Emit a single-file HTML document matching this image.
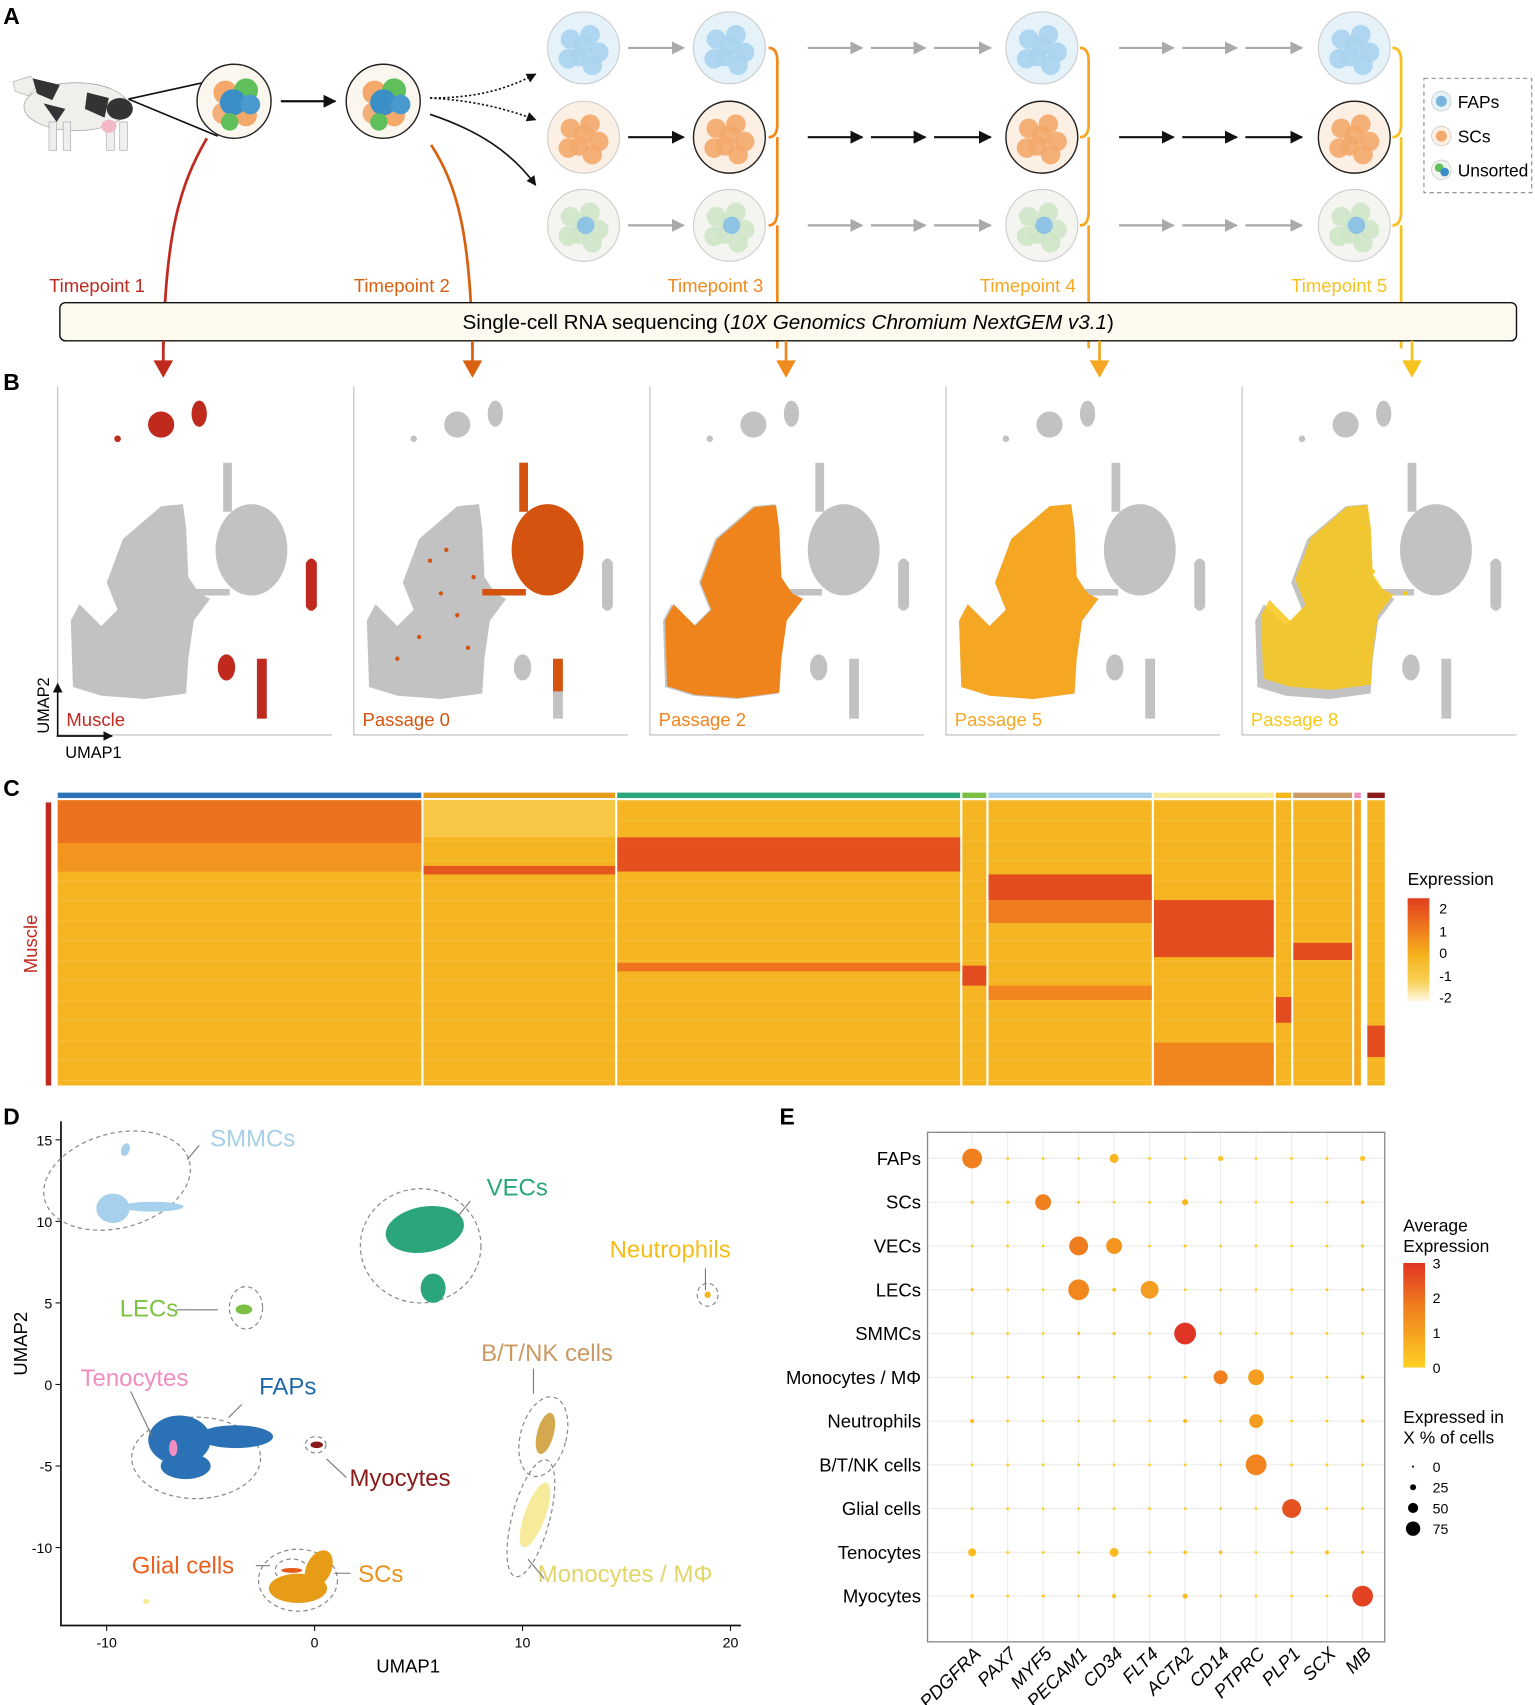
<!DOCTYPE html>
<html><head><meta charset="utf-8"><style>
html,body{margin:0;padding:0;background:#fff;}
svg{display:block;font-family:"Liberation Sans",sans-serif;}
</style></head><body>
<svg id="fig" width="1535" height="1705" viewBox="0 0 1410 1566" preserveAspectRatio="none" xmlns="http://www.w3.org/2000/svg">
<defs>
<marker id="ah" viewBox="0 0 10 10" refX="9" refY="5" markerWidth="6" markerHeight="6" orient="auto"><path d="M0,0L10,5L0,10z" fill="#111"/></marker>
<marker id="ahg" viewBox="0 0 10 10" refX="9" refY="5" markerWidth="6" markerHeight="6" orient="auto"><path d="M0,0L10,5L0,10z" fill="#aaa"/></marker>
<linearGradient id="expg" x1="0" y1="0" x2="0" y2="1"><stop offset="0" stop-color="#e0401e"/><stop offset="0.3" stop-color="#f07a1e"/><stop offset="0.55" stop-color="#f5b21d"/><stop offset="0.8" stop-color="#f8cf55"/><stop offset="1" stop-color="#fffbe8"/></linearGradient>
<linearGradient id="avg" x1="0" y1="0" x2="0" y2="1"><stop offset="0" stop-color="#e03524"/><stop offset="0.4" stop-color="#ef7c1e"/><stop offset="0.7" stop-color="#f7a520"/><stop offset="1" stop-color="#fdd022"/></linearGradient>
</defs>

<!-- PANEL A -->
<g>
<text x="3" y="22" font-size="21" font-weight="bold">A</text>
<g>
<ellipse cx="70" cy="98" rx="48" ry="22" fill="#f1efeb" stroke="#999" stroke-width="0.6"/>
<path d="M12,75 L28,70 L35,78 L26,88 L14,84z" fill="#f1efeb" stroke="#999" stroke-width="0.5"/>
<path d="M30,72 L55,78 L48,92 L34,86z" fill="#333"/>
<path d="M80,85 L100,90 L96,108 L78,100z" fill="#333"/>
<path d="M40,95 L60,100 L52,112z" fill="#333"/>
<ellipse cx="110" cy="100" rx="12" ry="10" fill="#333"/>
<rect x="45" y="112" width="7" height="26" fill="#eee" stroke="#999" stroke-width="0.5"/>
<rect x="58" y="112" width="7" height="26" fill="#eee" stroke="#999" stroke-width="0.5"/>
<rect x="98" y="112" width="7" height="26" fill="#eee" stroke="#999" stroke-width="0.5"/>
<rect x="110" y="112" width="7" height="26" fill="#eee" stroke="#999" stroke-width="0.5"/>
<ellipse cx="100" cy="116" rx="7" ry="6" fill="#f2b8c6"/>
</g>
<line x1="118" y1="91" x2="200" y2="73" stroke="#111" stroke-width="1.5"/>
<line x1="118" y1="91" x2="200" y2="125" stroke="#111" stroke-width="1.5"/>
<g>
<circle cx="215" cy="93" r="34" fill="#fbf7ef" stroke="#222" stroke-width="1.3"/>
<circle cx="207" cy="85" r="11" fill="#f4a86a"/><circle cx="226" cy="83" r="11" fill="#5fbf5a"/><circle cx="205" cy="104" r="10" fill="#f4b07a"/><circle cx="226" cy="106" r="10" fill="#f4a86a"/><circle cx="214" cy="94" r="12" fill="#3b8fc6"/><circle cx="230" cy="96" r="9" fill="#4a9ad0"/><circle cx="211" cy="112" r="8" fill="#5fbf5a"/>
</g>
<line x1="258" y1="93" x2="308" y2="93" stroke="#111" stroke-width="2" marker-end="url(#ah)"/>
<g>
<circle cx="352" cy="93" r="34" fill="#fbf7ef" stroke="#222" stroke-width="1.3"/>
<circle cx="344" cy="85" r="11" fill="#f4a86a"/><circle cx="362" cy="83" r="11" fill="#5fbf5a"/><circle cx="343" cy="104" r="10" fill="#f4b07a"/><circle cx="362" cy="106" r="10" fill="#f4a86a"/><circle cx="352" cy="94" r="12" fill="#3b8fc6"/><circle cx="368" cy="96" r="9" fill="#4a9ad0"/><circle cx="348" cy="112" r="8" fill="#5fbf5a"/>
</g>
<path d="M395,90 C430,90 460,85 492,68" stroke="#111" stroke-width="1.5" stroke-dasharray="2,2" fill="none" marker-end="url(#ah)"/>
<path d="M395,90 C430,92 460,98 492,110" stroke="#111" stroke-width="1.5" stroke-dasharray="2,2" fill="none" marker-end="url(#ah)"/>
<path d="M395,105 C440,120 470,140 492,170" stroke="#111" stroke-width="1.5" fill="none" marker-end="url(#ah)"/>
<g id="circles"></g>
<g>
<rect x="1308" y="72" width="99" height="105" fill="none" stroke="#888" stroke-dasharray="4,3"/>
<circle cx="1324" cy="93" r="9" fill="#e6f2fa" stroke="#bbb" stroke-width="0.5"/><circle cx="1324" cy="93" r="5" fill="#7ab6db"/>
<text x="1339" y="99" font-size="16">FAPs</text>
<circle cx="1324" cy="125" r="9" fill="#fcefe3" stroke="#bbb" stroke-width="0.5"/><circle cx="1324" cy="125" r="5" fill="#f4a86a"/>
<text x="1339" y="131" font-size="16">SCs</text>
<circle cx="1324" cy="156" r="9" fill="#f2f5ee" stroke="#bbb" stroke-width="0.5"/><circle cx="1322" cy="154" r="4" fill="#5fbf5a"/><circle cx="1327" cy="158" r="4" fill="#3b8fc6"/>
<text x="1339" y="162" font-size="16">Unsorted</text>
</g>
<path d="M190,127 C165,170 152,215 150,320" stroke="#c0291e" stroke-width="2.5" fill="none"/>
<path d="M396,133 C420,170 432,215 434,320" stroke="#d9600f" stroke-width="2.5" fill="none"/>
<g font-size="17">
<text x="45" y="268" fill="#c0291e">Timepoint 1</text>
<text x="325" y="268" fill="#d9600f">Timepoint 2</text>
<text x="613" y="268" fill="#f08a1c">Timepoint 3</text>
<text x="900" y="268" fill="#f5a623">Timepoint 4</text>
<text x="1186" y="268" fill="#f7c21e">Timepoint 5</text>
</g>
<rect x="55" y="278" width="1338" height="35" rx="5" fill="#fcf9ef" stroke="#111" stroke-width="1.3"/>
<text x="724" y="302" font-size="19" text-anchor="middle">Single-cell RNA sequencing (<tspan font-style="italic">10X Genomics Chromium NextGEM v3.1</tspan>)</text>
<g id="downarrows"></g>
</g>

<!-- PANEL B -->
<g>
<text x="3" y="358" font-size="21" font-weight="bold">B</text>
<g id="umaps"></g>
</g>

<!-- PANEL C -->
<g>
<text x="3" y="731" font-size="21" font-weight="bold">C</text>
<rect x="42" y="737" width="5" height="260" fill="#c0291e"/>
<text transform="translate(34,867) rotate(-90)" font-size="17" fill="#c0291e" text-anchor="middle">Muscle</text>
<g id="heat"></g>
<g>
<text x="1293" y="813" font-size="16">Expression</text>
<rect x="1293" y="825" width="20" height="95" fill="url(#expg)"/>
<g font-size="13"><text x="1322" y="839">2</text><text x="1322" y="860">1</text><text x="1322" y="880">0</text><text x="1322" y="901">-1</text><text x="1322" y="921">-2</text></g>
</g>
</g>

<!-- PANEL D -->
<g>
<text x="3" y="1033" font-size="21" font-weight="bold">D</text>
<g id="umapD"></g>
</g>

<!-- PANEL E -->
<g>
<text x="716" y="1033" font-size="21" font-weight="bold">E</text>
<g id="dot"></g>
</g>
</svg>

<script>
const NS='http://www.w3.org/2000/svg';
function mk(tag,attrs,parent){const e=document.createElementNS(NS,tag);for(const k in attrs)e.setAttribute(k,attrs[k]);if(parent)parent.appendChild(e);return e;}

// ---------- Panel A circles ----------
const circCols=[536,670,957,1244];
const circRows=[44,126,207];
const circFill=['#e6f2fa','#fcefe3','#f4f5f0'];
const cellCol=['#a9d3ee','#f4a86a','#cfe6c8'];
const cg=document.getElementById('circles');
circCols.forEach((cx,ci)=>{circRows.forEach((cy,ri)=>{
  const g=mk('g',{},cg);
  
  
  const dark=(ri===1&&ci>0);
  mk('circle',{cx:cx,cy:cy,r:33,fill:circFill[ri],stroke:dark?'#222':'#ccc','stroke-width':dark?1.3:1},g);
  [[-12,-8],[6,-12],[14,4],[-4,8],[-14,10],[8,16],[0,-2]].forEach(o=>mk('circle',{cx:cx+o[0],cy:cy+o[1],r:9,fill:cellCol[ri],opacity:0.9},g));
  if(ri===2){mk('circle',{cx:cx+2,cy:cy,r:8,fill:'#8ec3e6'},g);}
});});
const arrowRowColor=['#aaa','#111','#aaa'];
circRows.forEach((cy,ri)=>{
  const m=ri===1?'url(#ah)':'url(#ahg)';
  mk('line',{x1:577,y1:cy,x2:628,y2:cy,stroke:arrowRowColor[ri],'stroke-width':2,'marker-end':m},cg);
  [[742,792],[800,850],[858,910],[1028,1078],[1086,1136],[1144,1196]].forEach(s=>mk('line',{x1:s[0],y1:cy,x2:s[1],y2:cy,stroke:arrowRowColor[ri],'stroke-width':2,'marker-end':m},cg));
});
const brX=[714,1000,1287];const brC=['#f08a1c','#f5a623','#f7c21e'];
brX.forEach((x,i)=>{
  mk('path',{d:`M${x-8},44 Q${x},44 ${x},56 L${x},114 Q${x},126 ${x-8},126 M${x},126 Q${x},126 ${x},138 L${x},194 Q${x},207 ${x-8},207 M${x},207 L${x},320`,stroke:brC[i],'stroke-width':2.5,fill:'none'},cg);
});
const da=document.getElementById('downarrows');
const daX=[150,434,722,1010,1297];const daC=['#c0291e','#d9600f','#f08a1c','#f5a623','#f7c21e'];
daX.forEach((x,i)=>{mk('line',{x1:x,y1:313,x2:x,y2:335,stroke:daC[i],'stroke-width':2.5},da);mk('path',{d:`M${x-9},331 L${x+9},331 L${x},347z`,fill:daC[i]},da);});

// ---------- Panel B UMAPs ----------
const passLabels=['Muscle','Passage 0','Passage 2','Passage 5','Passage 8'];
const passColors=['#c0291e','#d4540f','#f0841c','#f5a623','#f8c81a'];
const greyParts=[
 'M83,35 a12,12 0 1,0 24,0 a12,12 0 1,0 -24,0z','M123,25 a7,12 0 1,0 14,0 a7,12 0 1,0 -14,0z','M52,48 a3,3 0 1,0 6,0 a3,3 0 1,0 -6,0z',
 'M152,70 h8 v45 h-8z',
 'M95,110 L115,108 L118,130 L120,175 L130,190 L140,195 L125,215 L120,250 L118,282 L80,287 L40,284 L14,276 L12,215 L20,200 L40,220 L55,205 L45,180 L60,140z',
 'M145,150 a33,42 0 1,0 66,0 a33,42 0 1,0 -66,0z','M118,186 h40 v6 h-40z',
 'M228,162 q5,-8 10,0 v40 q-5,8 -10,0z','M147,258 a8,12 0 1,0 16,0 a8,12 0 1,0 -16,0z','M183,250 h9 v55 h-9z'];
const colParts=[[0,1,2,7,8,9],[3,5,6],[4],[4],[4]];
const ug=document.getElementById('umaps');
passLabels.forEach((lab,i)=>{
  const x0=53+272*i,y0=355;
  const g=mk('g',{transform:`translate(${x0},${y0})`},ug);
  
  
  mk('path',{d:'M0,0 V320 H252',stroke:'#bbb','stroke-width':1,fill:'none'},g);
  greyParts.forEach(d=>mk('path',{d:d,fill:'#c2c2c2'},g));
  colParts[i].forEach(pi=>{
    const p=mk('path',{d:greyParts[pi],fill:passColors[i]},g);
    if(i===4){p.setAttribute('opacity','0.85');p.setAttribute('transform','translate(6,6) scale(0.95)');}
    if(i===2&&pi===4)p.setAttribute('transform','translate(2,2) scale(0.99)');
  });
  if(i===1){[[70,160],[80,190],[95,210],[60,230],[105,240],[85,150],[110,175],[40,250]].forEach(o=>mk('circle',{cx:o[0],cy:o[1],r:2,fill:passColors[1]},g));mk('path',{d:'M183,250 h9 v30 h-9z',fill:passColors[1]},g);}
  if(i===4){[[110,130],[120,170],[150,190]].forEach(o=>mk('circle',{cx:o[0],cy:o[1],r:2,fill:passColors[4]},g));}
  const t=mk('text',{x:8,y:312,'font-size':17,fill:passColors[i]},g);t.textContent=lab;
  
  
});
{const g=mk('g',{},ug);
 
 
 mk('line',{x1:53,y1:676,x2:53,y2:628,stroke:'#111','stroke-width':1.5,'marker-end':'url(#ah)'},g);
 mk('line',{x1:52,y1:676,x2:103,y2:676,stroke:'#111','stroke-width':1.5,'marker-end':'url(#ah)'},g);
 const a=mk('text',{transform:'translate(45,648) rotate(-90)','font-size':15,'text-anchor':'middle'},g);a.textContent='UMAP2';
 const b=mk('text',{x:60,y:696,'font-size':15},g);b.textContent='UMAP1';}

// ---------- Panel C heatmap ----------
const hmClusterStarts=[53,389,567,884,908,1060,1172,1188,1244,1252,1256];
const hmClusterEnds=[387,565,882,906,1058,1170,1186,1242,1250,1254,1272];
const hmClusterColors=['#2a72b5','#e69c17','#2ba57a','#7bc043','#a6d0ec','#f7eb9b','#f4b81a','#c99a63','#f08ec0','#ffffff','#8b1a1a'];
const hmBands=[
 [[0,15,1.3],[15,25,0.6]],
 [[0,13,-0.8],[23,26,1.8]],
 [[13,25,1.9],[57,60,1.2]],
 [[58,65,2]],
 [[26,35,2],[35,43,1.1],[65,70,0.9]],
 [[35,55,2],[85,100,0.9]],
 [[69,78,2]],
 [[50,56,2]],
 [[0,100,0.2]],
 [[0,100,-2]],
 [[79,90,2]]];
function zcol(z){const stops=[[-2,[255,251,232]],[-1,[248,207,85]],[0,[245,178,29]],[1,[240,122,30]],[2,[224,64,30]]];
 z=Math.max(-2,Math.min(2,z));for(let i=0;i<4;i++){const a=stops[i],b=stops[i+1];if(z<=b[0]){const t=(z-a[0])/(b[0]-a[0]);return 'rgb('+a[1].map((v,k)=>Math.round(v+(b[1][k]-v)*t)).join(',')+')';}}return 'rgb(224,64,30)';}
const hg=document.getElementById('heat');
const hTop=735,hBot=997;const ry=r=>hTop+(hBot-hTop)*r/100;
hmClusterStarts.forEach((x0,i)=>{
  const x1=hmClusterEnds[i];
  const g=mk('g',{},hg);
  
  
  mk('rect',{x:x0,y:728,width:x1-x0,height:5,fill:hmClusterColors[i]},g);
  if(i===9)return;
  mk('rect',{x:x0,y:hTop,width:x1-x0,height:hBot-hTop,fill:zcol(-0.1)},g);
  for(let r=0;r<100;r+=7){mk('rect',{x:x0,y:ry(r),width:x1-x0,height:1.2,fill:zcol(-0.6),opacity:0.6},g);}
  hmBands[i].forEach(b=>mk('rect',{x:x0,y:ry(b[0]),width:x1-x0,height:ry(b[1])-ry(b[0]),fill:zcol(b[2]),opacity:0.9},g));
});

// ---------- Panel D UMAP ----------
const dX=v=>289+v*19.1, dY=v=>1271.6-v*14.98;
const dXticks=[-10,0,10,20], dYticks=[15,10,5,0,-5,-10];
const clNames=['SMMCs','SMMCs','SMMCs','VECs','VECs','LECs','Neutrophils','B/T/NK cells','FAPs','FAPs','FAPs','Myocytes','Monocytes / MΦ','SCs','SCs','Glial cells','Tenocytes','Monocytes / MΦ'];
const clCx=[-9.7,-7.8,-9.1,5.3,5.7,-3.4,18.9,11.1,-6.5,-3.8,-6.2,0.1,10.6,-0.8,0.2,-1.1,-6.8,-8.1];
const clCy=[10.8,10.9,14.4,9.5,5.9,4.6,5.5,-3,-3.4,-3.2,-5,-3.7,-8,-12.5,-11.3,-11.4,-3.9,-13.3];
const clRx=[0.8,1.5,0.2,1.9,0.6,0.4,0.15,0.4,1.5,1.8,1.2,0.3,0.5,1.4,0.6,0.5,0.2,0.15];
const clRy=[0.9,0.3,0.4,1.4,0.9,0.3,0.2,1.3,1.5,0.7,0.8,0.2,2.1,0.9,1.2,0.15,0.5,0.15];
const clRot=[0,0,20,-10,0,0,0,15,0,0,0,0,20,0,25,0,0,0];
const clColor=['#a6d0ec','#a6d0ec','#a6d0ec','#2ba57a','#2ba57a','#7bc043','#f4b81a','#d4a84f','#2a72b5','#2a72b5','#2a72b5','#8b1a1a','#f7eb9b','#e69c17','#e69c17','#e35a1b','#f08ec0','#f7eb9b'];
const hullCx=[-9.5,5.1,-3.3,18.9,11,-5.7,0.05,10.4,-0.8,-1.1];
const hullCy=[12.5,8.5,4.7,5.5,-3.2,-4.5,-3.7,-8.2,-12,-11.4];
const hullRx=[3.6,2.9,0.8,0.5,1.1,3.1,0.5,0.9,1.9,0.8];
const hullRy=[2.9,3.5,1.3,0.7,2.5,2.5,0.5,3.7,1.9,0.7];
const hullRot=[-15,0,0,0,15,0,0,15,0,0];
const labText=['SMMCs','VECs','Neutrophils','LECs','B/T/NK cells','Tenocytes','FAPs','Myocytes','Glial cells','SCs','Monocytes / MΦ'];
const labX=[193,447,560,110,442,74,238,321,121,329,494];
const labY=[1053,1098,1155,1209,1250,1273,1281,1365,1445,1453,1453];
const labC=['#a6cfe8','#2ba57a','#f5bd1a','#7cc243','#c99a63','#f08ec0','#2068a8','#8b1a1a','#e8601c','#e8921c','#e2d56a'];
const dg=document.getElementById('umapD');
{const ax=mk('g',{},dg);
 
 
 mk('path',{d:`M56,1030 V1493 H${dX(20.5)}`,stroke:'#111','stroke-width':1.6,fill:'none'},ax);
 dXticks.forEach(v=>{mk('line',{x1:dX(v),y1:1493,x2:dX(v),y2:1498,stroke:'#111'},ax);const t=mk('text',{x:dX(v),y:1513,'font-size':13,'text-anchor':'middle'},ax);t.textContent=v;});
 dYticks.forEach(v=>{mk('line',{x1:51,y1:dY(v),x2:56,y2:dY(v),stroke:'#111'},ax);const t=mk('text',{x:48,y:dY(v)+5,'font-size':13,'text-anchor':'end'},ax);t.textContent=v;});
 const a=mk('text',{x:dX(4.5),y:1536,'font-size':17,'text-anchor':'middle'},ax);a.textContent='UMAP1';
 const b=mk('text',{transform:`translate(25,${dY(2.5)}) rotate(-90)`,'font-size':17,'text-anchor':'middle'},ax);b.textContent='UMAP2';}
hullCx.forEach((cx,i)=>{
  const e=mk('ellipse',{cx:dX(cx),cy:dY(hullCy[i]),rx:hullRx[i]*19.1,ry:hullRy[i]*14.98,fill:'none',stroke:'#888','stroke-dasharray':'4,3','stroke-width':1.1,transform:`rotate(${hullRot[i]},${dX(cx)},${dY(hullCy[i])})`},dg);
  
  
});
clCx.forEach((cx,i)=>{
  const e=mk('ellipse',{cx:dX(cx),cy:dY(clCy[i]),rx:Math.max(2,clRx[i]*19.1),ry:Math.max(2,clRy[i]*14.98),fill:clColor[i],transform:`rotate(${clRot[i]},${dX(cx)},${dY(clCy[i])})`},dg);
  
  
});
labText.forEach((s,i)=>{
  const t=mk('text',{x:labX[i],y:labY[i],'font-size':22,fill:labC[i]},dg);t.textContent=s;
  
  
});
[[183,1052,172,1065],[432,1103,420,1118],[648,1165,648,1185],[162,1203,200,1203],[490,1257,490,1280],[222,1290,210,1302],[318,1357,300,1340],[235,1438,248,1438],[322,1445,307,1445],[500,1450,485,1432],[120,1278,140,1320]].forEach(l=>mk('line',{x1:l[0],y1:l[1],x2:l[2],y2:l[3],stroke:'#777','stroke-width':1},dg));

// ---------- Panel E dot plot ----------
const genes=['PDGFRA','PAX7','MYF5','PECAM1','CD34','FLT4','ACTA2','CD14','PTPRC','PLP1','SCX','MB'];
const cellTypes=['FAPs','SCs','VECs','LECs','SMMCs','Monocytes / MΦ','Neutrophils','B/T/NK cells','Glial cells','Tenocytes','Myocytes'];
const pctExpr=[
 [90,3,3,3,35,3,3,15,3,3,3,15],
 [5,5,70,3,3,3,20,3,3,3,3,8],
 [3,3,3,85,70,3,5,3,3,3,3,5],
 [5,3,3,95,8,80,3,3,3,3,3,5],
 [3,3,3,5,5,3,100,3,3,3,3,3],
 [3,3,3,5,3,3,5,60,70,3,3,8],
 [10,3,3,3,3,3,10,3,60,3,3,8],
 [3,3,3,3,3,3,3,3,95,3,3,3],
 [3,3,3,3,3,3,3,3,3,85,3,3],
 [30,3,3,3,35,3,8,8,3,3,10,5],
 [10,3,5,3,10,3,15,3,3,3,3,95]];
const avgExpr=[
 [1.9,0.1,0.1,0.1,0.6,0.1,0.1,0.3,0.1,0.1,0.1,0.3],
 [0.2,0.2,1.9,0.1,0.1,0.1,0.6,0.1,0.1,0.1,0.1,0.2],
 [0.1,0.1,0.1,2.0,1.4,0.1,0.2,0.1,0.1,0.1,0.1,0.2],
 [0.2,0.1,0.1,1.7,0.3,1.2,0.1,0.1,0.1,0.1,0.1,0.2],
 [0.1,0.1,0.1,0.3,0.3,0.1,3.0,0.1,0.1,0.1,0.1,0.1],
 [0.1,0.1,0.1,0.3,0.1,0.1,0.2,1.9,1.2,0.1,0.1,0.2],
 [0.4,0.1,0.1,0.1,0.1,0.1,0.5,0.1,1.2,0.1,0.1,0.2],
 [0.1,0.1,0.1,0.1,0.1,0.1,0.1,0.1,1.8,0.1,0.1,0.1],
 [0.1,0.1,0.1,0.1,0.1,0.1,0.1,0.1,0.1,2.6,0.1,0.1],
 [0.5,0.1,0.1,0.1,0.5,0.1,0.3,0.3,0.1,0.1,0.3,0.2],
 [0.3,0.1,0.2,0.1,0.3,0.1,0.5,0.1,0.1,0.1,0.1,2.8]];
const sizeLegend=[0,25,50,75];
const colorTicks=[3,2,1,0];
const eX=i=>893+i*32.6, eY=j=>1064+j*40.2, eR=p=>1+p*0.09;
function ecol(v){const st=[[0,[253,208,34]],[1,[247,165,32]],[2,[239,124,30]],[3,[224,53,36]]];v=Math.max(0,Math.min(3,v));for(let i=0;i<3;i++){if(v<=st[i+1][0]){const t=v-st[i][0];return 'rgb('+st[i][1].map((c,k)=>Math.round(c+(st[i+1][1][k]-c)*t)).join(',')+')';}}return 'rgb(224,53,36)';}
const eg=document.getElementById('dot');
const eL=852,eR2=1272,eT=1040,eB=1508;
genes.forEach((g,i)=>{mk('line',{x1:eX(i),y1:eT,x2:eX(i),y2:eB,stroke:'#ececec','stroke-width':1},eg);});
cellTypes.forEach((c,j)=>{mk('line',{x1:eL,y1:eY(j),x2:eR2,y2:eY(j),stroke:'#ececec','stroke-width':1},eg);});
{const r=mk('rect',{x:eL,y:eT,width:eR2-eL,height:eB-eT,fill:'none',stroke:'#888','stroke-width':1.2},eg);
 
 }
cellTypes.forEach((c,j)=>{
  const t=mk('text',{x:eL-6,y:eY(j)+6,'font-size':17,'text-anchor':'end'},eg);t.textContent=c;
  
  
  genes.forEach((g,i)=>{
    const d=mk('circle',{cx:eX(i),cy:eY(j),r:eR(pctExpr[j][i]),fill:ecol(avgExpr[j][i])},eg);
    
    
  });
});
genes.forEach((g,i)=>{
  const t=mk('text',{transform:`translate(${eX(i)+9},${eB+12}) rotate(-45)`,'font-size':17,'font-style':'italic','text-anchor':'end'},eg);t.textContent=g;
  
  
});
{const lg=mk('g',{},eg);
 
 
 const t1=mk('text',{x:1289,y:1131,'font-size':16},lg);t1.textContent='Average';
 const t2=mk('text',{x:1289,y:1150,'font-size':16},lg);t2.textContent='Expression';
 mk('rect',{x:1289,y:1160,width:20,height:96,fill:'url(#avg)'},lg);
 colorTicks.forEach(v=>{const y=1256-v*32;const t=mk('text',{x:1316,y:y+5,'font-size':13},lg);t.textContent=v;});
 const t3=mk('text',{x:1289,y:1307,'font-size':16},lg);t3.textContent='Expressed in';
 const t4=mk('text',{x:1289,y:1326,'font-size':16},lg);t4.textContent='X % of cells';
 sizeLegend.forEach((v,k)=>{const y=1347+k*19;mk('circle',{cx:1298,cy:y,r:Math.max(1,eR(v)*0.85),fill:'#000'},lg);const t=mk('text',{x:1316,y:y+5,'font-size':13},lg);t.textContent=v;});}
</script>
</body></html>
